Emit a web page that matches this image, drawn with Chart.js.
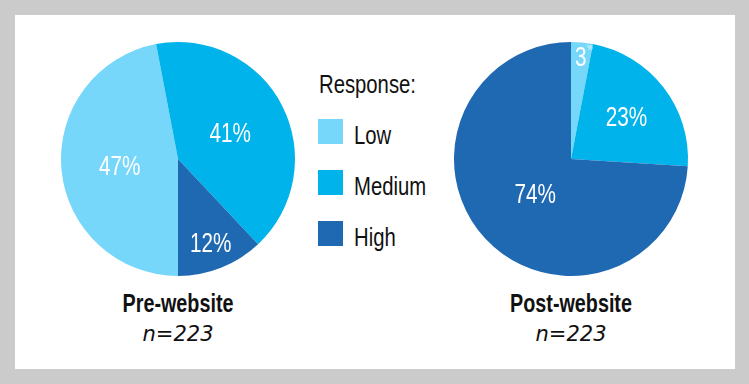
<!DOCTYPE html>
<html>
<head>
<meta charset="utf-8">
<script src="https://cdn.jsdelivr.net/npm/chart.js@4"></script>
<style>
    html, body { margin: 0; padding: 0; }
    body { width: 749px; height: 384px; background: #cbcbcb; position: relative; overflow: hidden; }
    #panel { position: absolute; left: 15px; top: 15px; width: 720px; height: 354px; background: #fff; }
    .pie { position: absolute; top: 39px; width: 240px; height: 242px; }
    .txt { position: absolute; white-space: nowrap; color: #111; }
    .narrow { font-family: "Liberation Sans", Arial, sans-serif; }
    .title { font-size: 26px; line-height: 26px; font-weight: bold; width: 200px; text-align: center; transform: scaleX(0.76); transform-origin: center; }
    .n { font-family: "DejaVu Sans", sans-serif; font-style: italic; font-size: 21px; line-height: 21px; width: 200px; text-align: center; }
    .sw { position: absolute; width: 25px; height: 25px; }
    .leg { font-size: 26px; line-height: 26px; transform: scaleX(0.78); transform-origin: left; }
</style>
</head>
<body>
<div id="panel"></div>
<canvas id="pre" class="pie" style="left:58px"></canvas>
<canvas id="post" class="pie" style="left:451px"></canvas>
<div id="legend"></div>
<div id="titles"></div>
<script>
const categories = ['Low', 'Medium', 'High']
const preValues = [47, 41, 12]
const postValues = [3, 23, 74]
const colors = ['#76d7fa', '#00b3ea', '#1f68b2']
const chartTitles = ['Pre-website', 'Post-website']
const sampleSizes = ['n=223', 'n=223']
const legendTitle = 'Response:'

// draws the white percent labels inside each slice
const sliceLabels = {
    id: 'sliceLabels',
    afterDatasetsDraw(chart, args, opts) {
        const ctx = chart.ctx
        const meta = chart.getDatasetMeta(0)
        const vals = chart.data.datasets[0].data
        meta.data.forEach((arc, i) => {
            const p = arc.getProps(['x', 'y', 'startAngle', 'endAngle', 'outerRadius'], true)
            const mid = (p.startAngle + p.endAngle) / 2
            const r = p.outerRadius * opts.pos[i]
            const x = p.x + Math.cos(mid) * r
            const y = p.y + Math.sin(mid) * r
            const v = String(vals[i])
            ctx.save()
            ctx.translate(x, y)
            ctx.scale(0.74, 1)   // condensed look
            ctx.fillStyle = '#fff'
            ctx.font = '28px "Liberation Sans", Arial, sans-serif'
            if (vals[i] < 5) {
                // tiny slice: small percent sign
                const w = ctx.measureText(v).width
                ctx.textAlign = 'left'
                ctx.fillText(v, -w / 2, 10)
                ctx.font = '8px "Liberation Sans", Arial, sans-serif'
                ctx.fillText('%', w / 2 + 1, -6)
            } else {
                ctx.textAlign = 'center'
                ctx.fillText(v + '%', 0, 10)
            }
            ctx.restore()
        })
    }
}

function makePie(id, values, rotation, labelPos) {
    return new Chart(document.getElementById(id), {
        type: 'pie',
        data: {
            labels: categories,
            datasets: [{
                data: values,
                backgroundColor: colors,
                borderWidth: 0,
            }]
        },
        options: {
            responsive: false,
            animation: false,
            rotation: rotation,
            layout: { padding: 3 },
            plugins: {
                legend: { display: false },
                tooltip: { enabled: false },
                sliceLabels: { pos: labelPos },
            }
        },
        plugins: [sliceLabels]
    })
}

makePie('pre', preValues, 180, [0.5, 0.5, 0.76])
makePie('post', postValues, 0, [0.88, 0.6, 0.42])

// legend built from the same categories and colours
const leg = document.getElementById('legend')
let h = '<div class="txt narrow leg" style="left:319px;top:71px">' + legendTitle + '</div>'
categories.forEach((c, i) => {
    const top = 119 + i * 51
    h += '<div class="sw" style="left:318px;top:' + top + 'px;background:' + colors[i] + '"></div>'
    h += '<div class="txt narrow leg" style="left:354px;top:' + (top + 3) + 'px">' + c + '</div>'
})
leg.innerHTML = h

const centers = [178, 571]
let t = ''
chartTitles.forEach((s, i) => {
    t += '<div class="txt narrow title" style="left:' + (centers[i] - 100) + 'px;top:290px">' + s + '</div>'
    t += '<div class="txt n" style="left:' + (centers[i] - 100) + 'px;top:324px">' + sampleSizes[i] + '</div>'
})
document.getElementById('titles').innerHTML = t
</script>
</body>
</html>
